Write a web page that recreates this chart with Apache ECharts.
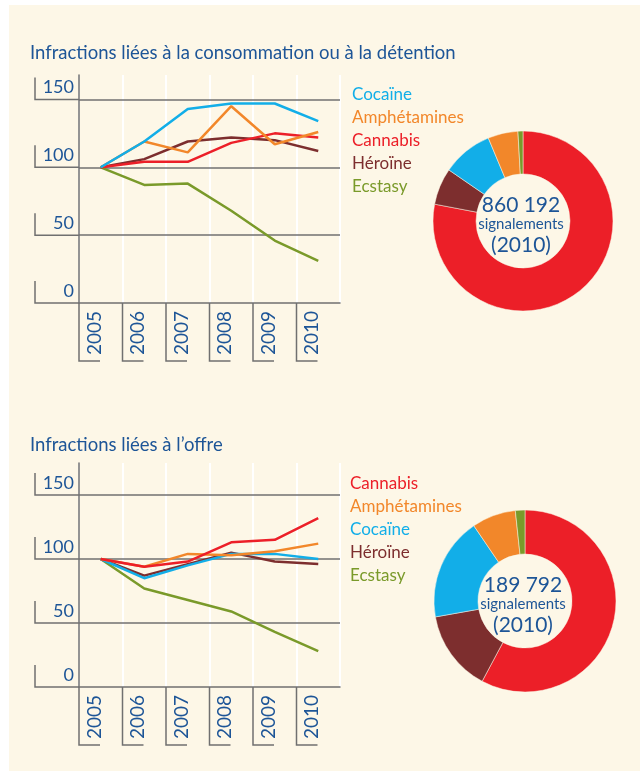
<!DOCTYPE html>
<html>
<head>
<meta charset="utf-8">
<title>Infractions</title>
<script src="https://cdn.jsdelivr.net/npm/echarts@6/dist/echarts.min.js"></script>
<style>
    html, body { margin: 0; padding: 0; background: #fff; }
    #my_chart { width: 640px; height: 771px; }
</style>
</head>
<body>
<div id="my_chart"></div>
<script>
// axe x
var years = ['2005', '2006', '2007', '2008', '2009', '2010'];
// graduations axe y
var yTicks = [0, 50, 100, 150];

// indices (base 100 en 2005) - consommation / détention
var cocaineUsage = [100, 119, 143, 147, 147, 134];
var amphUsage = [100, 119, 111, 145, 117, 126];
var cannabisUsage = [100, 104, 104, 118, 125, 122];
var heroinUsage = [100, 106, 119, 122, 120, 112];
var ecstasyUsage = [100, 87, 88, 68, 46, 31];

// indices (base 100 en 2005) - offre
var cannabisSupply = [100, 94, 98, 113, 115, 132];
var amphSupply = [100, 94, 104, 103, 106, 112];
var cocaineSupply = [100, 85, 95, 104, 104, 100];
var heroinSupply = [100, 87, 96, 105, 98, 96];
var ecstasySupply = [100, 77, 68, 59, 43, 28];

// parts des signalements 2010 (%)
var pieNames = ['Cannabis', 'Héroïne', 'Cocaïne', 'Amphétamines', 'Ecstasy'];
var usageShares = [78.0, 6.6, 9.1, 5.4, 0.9];
var supplyShares = [57.8, 14.4, 18.3, 7.8, 1.7];
var usageTotal = '860 192';
var supplyTotal = '189 792';

var colors = {
    'Cocaïne': '#12aee8',
    'Amphétamines': '#f2872a',
    'Cannabis': '#ec1f28',
    'Héroïne': '#7d2e2e',
    'Ecstasy': '#7a9a2a'
};
var blue = '#1d5597';
var gridColor = '#707070';
var cream = '#fdf7e7';
var font = 'Lato, sans-serif';

var myChart = echarts.init(document.getElementById('my_chart'));

function lineSeries(name, data, idx) {
    return {
        name: name,
        type: 'line',
        xAxisIndex: idx,
        yAxisIndex: idx,
        data: data,
        symbol: 'none',
        lineStyle: {color: colors[name], width: 2.5},
        itemStyle: {color: colors[name]},
        z: 3
    };
}

// crochets sous les années
function xBracket(params, api) {
    var p = api.coord([api.value(0), 0]);
    var bw = api.size([1, 0])[0];
    var x = p[0] - bw / 2;
    return {
        type: 'polyline',
        shape: {points: [[x, p[1]], [x, p[1] + 58], [x + 21, p[1] + 58]]},
        style: {stroke: gridColor, lineWidth: 1.5, fill: null}
    };
}

// crochets à gauche des graduations
function yBracket(params, api) {
    var p = api.coord([0, api.value(1)]);
    var gx = params.coordSys.x;
    return {
        type: 'polyline',
        shape: {points: [[gx - 44, p[1] - 22], [gx - 44, p[1]], [gx, p[1]]]},
        style: {stroke: gridColor, lineWidth: 1.5, fill: null}
    };
}

function bracketSeries(idx) {
    return [{
        type: 'custom',
        xAxisIndex: idx,
        yAxisIndex: idx,
        silent: true,
        renderItem: xBracket,
        data: years.map(function (y, i) { return [i, 0]; }),
        z: 1
    }, {
        type: 'custom',
        xAxisIndex: idx,
        yAxisIndex: idx,
        silent: true,
        renderItem: yBracket,
        data: yTicks.map(function (v) { return [0, v]; }),
        z: 1
    }];
}

function xAxis(idx) {
    return {
        type: 'category',
        gridIndex: idx,
        data: years,
        boundaryGap: true,
        axisLine: {lineStyle: {color: gridColor, width: 1.5}},
        axisTick: {show: false},
        splitLine: {show: true, lineStyle: {color: '#ffffff', width: 2}},
        axisLabel: {
            rotate: 90,
            margin: 8,
            color: blue,
            fontFamily: font,
            fontSize: 19,
            lineHeight: 12,
            verticalAlign: 'bottom'
        }
    };
}

function yAxis(idx, max) {
    return {
        type: 'value',
        gridIndex: idx,
        min: 0,
        max: max,
        interval: 50,
        z: 2,
        axisLine: {show: true, lineStyle: {color: gridColor, width: 1.5}},
        axisTick: {show: false},
        splitLine: {show: true, showMinLine: false, showMaxLine: false, lineStyle: {color: gridColor, width: 1.5}},
        axisLabel: {
            showMaxLabel: false,
            margin: 5,
            color: blue,
            fontFamily: font,
            fontSize: 18,
            verticalAlign: 'bottom',
            padding: [0, 0, 3, 0]
        }
    };
}

function legendData(names) {
    return names.map(function (n) {
        return {name: n, textStyle: {color: colors[n]}};
    });
}

function pieData(shares) {
    return pieNames.map(function (n, i) {
        return {name: n, value: shares[i], itemStyle: {color: colors[n]}};
    });
}

function centerText(total, center) {
    return {
        type: 'text',
        x: center[0] - 2,
        y: center[1] + 5,
        z: 100,
        style: {
            text: '{big|' + total + '}\n{small|signalements}\n{year|(2010)}',
            align: 'center',
            verticalAlign: 'middle',
            fill: blue,
            fontFamily: font,
            rich: {
                big: {fontSize: 21, lineHeight: 20, fontFamily: font, fill: blue},
                small: {fontSize: 15, lineHeight: 18, fontFamily: font, fill: blue},
                year: {fontSize: 21, lineHeight: 24, fontFamily: font, fill: blue}
            }
        }
    };
}

var usageCenter = [523, 221];
var supplyCenter = [525, 601];

var option = {
    animation: false,
    backgroundColor: '#ffffff',
    textStyle: {fontFamily: font},
    title: [{
        text: 'Infractions liées à la consommation ou à la détention',
        left: 30,
        top: 44,
        padding: 0,
        textStyle: {color: blue, fontFamily: font, fontSize: 18.5, fontWeight: 'normal'}
    }, {
        text: 'Infractions liées à l’offre',
        left: 30,
        top: 436,
        padding: 0,
        textStyle: {color: blue, fontFamily: font, fontSize: 18.5, fontWeight: 'normal'}
    }],
    legend: [{
        orient: 'vertical',
        left: 341,
        top: 78,
        itemWidth: 0,
        itemHeight: 0,
        itemGap: 0,
        selectedMode: false,
        textStyle: {fontFamily: font, fontSize: 17, lineHeight: 23},
        data: legendData(['Cocaïne', 'Amphétamines', 'Cannabis', 'Héroïne', 'Ecstasy'])
    }, {
        orient: 'vertical',
        left: 339,
        top: 467,
        itemWidth: 0,
        itemHeight: 0,
        itemGap: 0,
        selectedMode: false,
        textStyle: {fontFamily: font, fontSize: 17, lineHeight: 23},
        data: legendData(['Cannabis', 'Amphétamines', 'Cocaïne', 'Héroïne', 'Ecstasy'])
    }],
    grid: [
        {left: 79, right: 300, top: 75, height: 228},
        {left: 79, right: 300, top: 463, height: 224}
    ],
    xAxis: [xAxis(0), xAxis(1)],
    yAxis: [yAxis(0, 168), yAxis(1, 175)],
    graphic: {
        elements: [{
            type: 'rect',
            z: -100,
            shape: {x: 9, y: 5, width: 631, height: 766},
            style: {fill: cream}
        }, centerText(usageTotal, usageCenter), centerText(supplyTotal, supplyCenter)]
    },
    series: [
        lineSeries('Ecstasy', ecstasyUsage, 0),
        lineSeries('Héroïne', heroinUsage, 0),
        lineSeries('Cannabis', cannabisUsage, 0),
        lineSeries('Amphétamines', amphUsage, 0),
        lineSeries('Cocaïne', cocaineUsage, 0),
        lineSeries('Ecstasy', ecstasySupply, 1),
        lineSeries('Héroïne', heroinSupply, 1),
        lineSeries('Cocaïne', cocaineSupply, 1),
        lineSeries('Amphétamines', amphSupply, 1),
        lineSeries('Cannabis', cannabisSupply, 1),
        {
            name: 'Consommation 2010',
            type: 'pie',
            center: usageCenter,
            radius: [47, 90],
            startAngle: 90,
            label: {show: false},
            emphasis: {scale: false},
            itemStyle: {borderColor: cream, borderWidth: 0.5},
            data: pieData(usageShares)
        },
        {
            name: 'Offre 2010',
            type: 'pie',
            center: supplyCenter,
            radius: [47, 91],
            startAngle: 90,
            label: {show: false},
            emphasis: {scale: false},
            itemStyle: {borderColor: cream, borderWidth: 0.5},
            data: pieData(supplyShares)
        }
    ].concat(bracketSeries(0), bracketSeries(1))
};

myChart.setOption(option);
</script>
</body>
</html>
